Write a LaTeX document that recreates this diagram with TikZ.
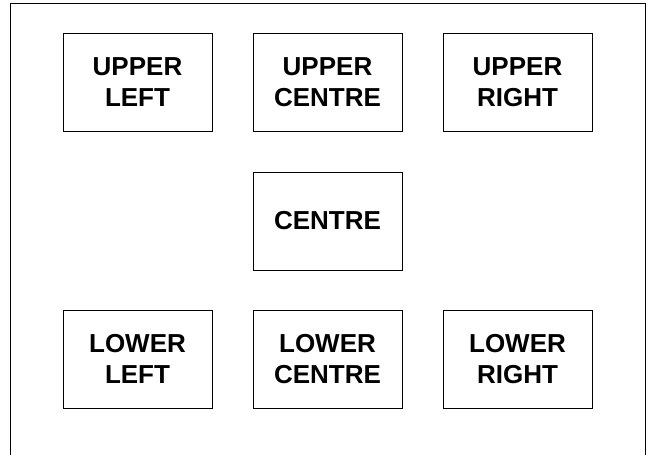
\documentclass[tikz,border=0pt]{standalone}
\usepackage{fontspec}
\setmainfont{Liberation Sans}
\usetikzlibrary{positioning}

\begin{document}
\begin{tikzpicture}[
  x=1pt, y=1pt,
  font=\fontsize{26}{31}\selectfont\bfseries,
  zone/.style={draw, line width=0.9pt, align=center, inner sep=0pt,
               minimum width=149pt, minimum height=98pt},
  frame/.style={draw, line width=0.9pt},
]
\useasboundingbox (0,0) rectangle (649,455);
\draw[frame] (10,0) |- (645,452) -- (645,0);
\node[zone] (ul) at (137.5,372.5) {UPPER\\LEFT};
\node[zone] (uc) at (327.5,372.5) {UPPER\\CENTRE};
\node[zone] (ur) at (517.5,372.5) {UPPER\\RIGHT};
\node[zone] (cc) at (327.5,234)   {CENTRE};
\node[zone] (ll) at (137.5,96)    {LOWER\\LEFT};
\node[zone] (lc) at (327.5,96)    {LOWER\\CENTRE};
\node[zone] (lr) at (517.5,96)    {LOWER\\RIGHT};
\end{tikzpicture}
\end{document}
